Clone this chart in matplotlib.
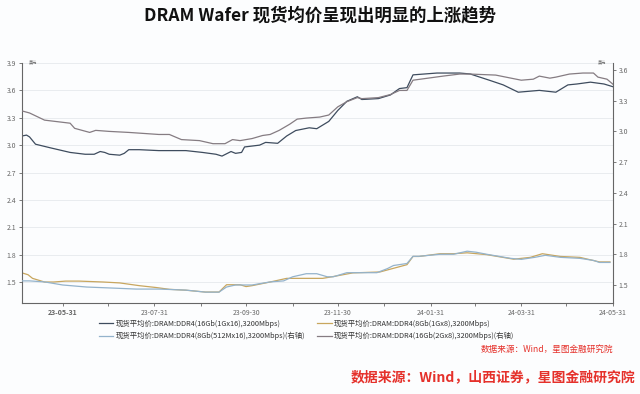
import numpy as np
import pandas as pd
import matplotlib
matplotlib.use("Agg")
import matplotlib.pyplot as plt
import matplotlib.dates as mdates

plt.rcParams["font.family"] = ["Noto Sans CJK SC", "DejaVu Sans"]

# 现货平均价:DRAM:DDR4(16Gb(1Gx16),3200Mbps)  -- left axis
d16_1g_dates = ["2023-05-04", "2023-05-07", "2023-05-09", "2023-05-13", "2023-05-23", "2023-06-05",
                "2023-06-15", "2023-06-21", "2023-06-25", "2023-06-28", "2023-07-01", "2023-07-08",
                "2023-07-11", "2023-07-14", "2023-07-21", "2023-08-03", "2023-08-10", "2023-08-21",
                "2023-09-01", "2023-09-10", "2023-09-14", "2023-09-20", "2023-09-23", "2023-09-27",
                "2023-09-29", "2023-10-09", "2023-10-13", "2023-10-21", "2023-10-27", "2023-11-02",
                "2023-11-11", "2023-11-16", "2023-11-18", "2023-11-24", "2023-11-30", "2023-12-06",
                "2023-12-13", "2023-12-16", "2023-12-27", "2024-01-04", "2024-01-10", "2024-01-15",
                "2024-01-19", "2024-02-04", "2024-02-19", "2024-02-26", "2024-03-10", "2024-03-19",
                "2024-03-29", "2024-04-12", "2024-04-23", "2024-05-01", "2024-05-07", "2024-05-16",
                "2024-05-25", "2024-05-31"]
d16_1g = [3.10, 3.11, 3.09, 3.01, 2.97, 2.92, 2.90, 2.90, 2.93, 2.92, 2.90, 2.89, 2.91, 2.95, 2.95,
          2.94, 2.94, 2.94, 2.92, 2.90, 2.88, 2.93, 2.91, 2.92, 2.98, 3.00, 3.03, 3.02, 3.10, 3.16,
          3.19, 3.18, 3.20, 3.26, 3.38, 3.48, 3.53, 3.50, 3.51, 3.55, 3.62, 3.63, 3.77, 3.79, 3.79,
          3.78, 3.71, 3.66, 3.58, 3.60, 3.58, 3.66, 3.67, 3.69, 3.67, 3.64]

# 现货平均价:DRAM:DDR4(8Gb(1Gx8),3200Mbps)  -- left axis
d8_1g_dates = ["2023-05-04", "2023-05-08", "2023-05-11", "2023-05-19", "2023-05-25", "2023-06-02",
               "2023-06-11", "2023-06-27", "2023-07-08", "2023-07-21", "2023-08-01", "2023-08-10",
               "2023-08-21", "2023-09-03", "2023-09-12", "2023-09-17", "2023-09-26", "2023-09-30",
               "2023-10-04", "2023-10-16", "2023-10-27", "2023-11-20", "2023-11-27", "2023-12-10",
               "2023-12-28", "2024-01-06", "2024-01-15", "2024-01-19", "2024-01-23", "2024-02-06",
               "2024-02-15", "2024-02-24", "2024-03-08", "2024-03-26", "2024-04-06", "2024-04-14",
               "2024-04-26", "2024-05-09", "2024-05-22", "2024-05-29"]
d8_1g = [1.60, 1.58, 1.54, 1.50, 1.50, 1.51, 1.51, 1.50, 1.49, 1.46, 1.44, 1.42, 1.41, 1.39, 1.39,
         1.47, 1.47, 1.45, 1.46, 1.50, 1.54, 1.54, 1.56, 1.60, 1.61, 1.65, 1.69, 1.78, 1.78, 1.81,
         1.81, 1.82, 1.80, 1.75, 1.77, 1.81, 1.78, 1.77, 1.72, 1.72]

# 现货平均价:DRAM:DDR4(8Gb(512Mx16),3200Mbps)(右轴)
d8_512_dates = ["2023-05-04", "2023-05-09", "2023-05-19", "2023-05-31", "2023-06-16", "2023-07-03",
                "2023-07-19", "2023-08-03", "2023-08-21", "2023-09-03", "2023-09-12", "2023-09-17",
                "2023-09-23", "2023-10-04", "2023-10-16", "2023-10-25", "2023-10-31", "2023-11-09",
                "2023-11-16", "2023-11-23", "2023-11-27", "2023-12-06", "2023-12-15", "2023-12-26",
                "2024-01-02", "2024-01-06", "2024-01-15", "2024-01-19", "2024-01-23", "2024-02-06",
                "2024-02-15", "2024-02-24", "2024-03-01", "2024-03-08", "2024-03-24", "2024-03-31",
                "2024-04-09", "2024-04-16", "2024-04-26", "2024-05-09", "2024-05-18", "2024-05-22",
                "2024-05-29"]
d8_512 = [1.54, 1.54, 1.53, 1.50, 1.48, 1.47, 1.46, 1.46, 1.45, 1.43, 1.43, 1.48, 1.50, 1.50, 1.53,
          1.54, 1.58, 1.61, 1.61, 1.58, 1.58, 1.62, 1.62, 1.62, 1.66, 1.69, 1.71, 1.78, 1.78, 1.80,
          1.80, 1.83, 1.82, 1.80, 1.76, 1.75, 1.77, 1.79, 1.77, 1.76, 1.74, 1.72, 1.72]

# 现货平均价:DRAM:DDR4(16Gb(2Gx8),3200Mbps)(右轴)
d16_2g_dates = ["2023-05-04", "2023-05-09", "2023-05-19", "2023-06-05", "2023-06-08", "2023-06-18",
                "2023-06-22", "2023-07-01", "2023-07-14", "2023-08-03", "2023-08-10", "2023-08-18",
                "2023-08-30", "2023-09-08", "2023-09-16", "2023-09-21", "2023-09-26", "2023-10-04",
                "2023-10-11", "2023-10-16", "2023-10-22", "2023-10-29", "2023-11-03", "2023-11-09",
                "2023-11-18", "2023-11-24", "2023-11-30", "2023-12-06", "2023-12-13", "2023-12-16",
                "2023-12-27", "2024-01-04", "2024-01-10", "2024-01-15", "2024-01-19", "2024-02-08",
                "2024-02-19", "2024-02-26", "2024-03-14", "2024-03-31", "2024-04-08", "2024-04-12",
                "2024-04-19", "2024-04-23", "2024-05-02", "2024-05-11", "2024-05-18", "2024-05-21",
                "2024-05-27", "2024-05-31"]
d16_2g = [3.20, 3.18, 3.11, 3.08, 3.03, 2.99, 3.01, 3.00, 2.99, 2.97, 2.97, 2.92, 2.91, 2.88, 2.88,
          2.92, 2.91, 2.93, 2.96, 2.97, 3.01, 3.07, 3.12, 3.13, 3.14, 3.16, 3.24, 3.29, 3.33, 3.32,
          3.33, 3.36, 3.40, 3.40, 3.50, 3.54, 3.56, 3.56, 3.55, 3.50, 3.51, 3.54, 3.52, 3.53, 3.56,
          3.57, 3.57, 3.53, 3.51, 3.46]

major_ticks = ["2023-05-31", "2023-07-31", "2023-09-30", "2023-11-30", "2024-01-31", "2024-03-31", "2024-05-31"]
minor_ticks = ["2023-06-30", "2023-08-31", "2023-10-31", "2023-12-31", "2024-02-29", "2024-04-30"]
left_ticks = [1.5, 1.8, 2.1, 2.4, 2.7, 3.0, 3.3, 3.6, 3.9]
right_ticks = [1.5, 1.8, 2.1, 2.4, 2.7, 3.0, 3.3, 3.6]

labels = [
    "现货平均价:DRAM:DDR4(16Gb(1Gx16),3200Mbps)",
    "现货平均价:DRAM:DDR4(8Gb(1Gx8),3200Mbps)",
    "现货平均价:DRAM:DDR4(8Gb(512Mx16),3200Mbps)(右轴)",
    "现货平均价:DRAM:DDR4(16Gb(2Gx8),3200Mbps)(右轴)",
]
colors = ["#3e4c5e", "#c8a65e", "#94b3cc", "#857c82"]
red = "#e5312b"
tick_color = "#666666"
bg = "#fcfdfe"

fig = plt.figure(figsize=(6.4, 3.94), dpi=100)
fig.patch.set_facecolor(bg)
ax = fig.add_axes([22 / 640, 1 - 303 / 394, (613 - 22) / 640, (303 - 63) / 394])
ax2 = ax.twinx()
ax.set_facecolor(bg)

l1, = ax.plot(pd.to_datetime(d16_1g_dates), d16_1g, color=colors[0], lw=0.9)
l2, = ax.plot(pd.to_datetime(d8_1g_dates), d8_1g, color=colors[1], lw=0.9)
l3, = ax2.plot(pd.to_datetime(d8_512_dates), d8_512, color=colors[2], lw=0.9)
l4, = ax2.plot(pd.to_datetime(d16_2g_dates), d16_2g, color=colors[3], lw=0.9)

ax.set_xlim(pd.Timestamp("2023-05-04"), pd.Timestamp("2024-05-31"))
ax.set_ylim(1.27, 3.90)
ax2.set_ylim(1.324, 3.668)

ax.set_yticks(left_ticks)
ax.set_yticklabels([f"{v:.1f}" for v in left_ticks])
ax2.set_yticks(right_ticks)
ax2.set_yticklabels([f"{v:.1f}" for v in right_ticks])
ax.grid(axis="y", color="#e9ecef", lw=0.7)
ax.set_axisbelow(True)

ax.set_xticks(pd.to_datetime(major_ticks))
ax.set_xticks(pd.to_datetime(minor_ticks), minor=True)
ax.xaxis.set_major_formatter(mdates.DateFormatter("%y-%m-%d"))
for lbl in ax.get_xticklabels()[:1]:
    lbl.set_fontweight("bold")

for a in (ax, ax2):
    a.tick_params(axis="both", which="both", labelsize=5, colors=tick_color, length=2.5, width=0.6, pad=1.5)
    for s in a.spines.values():
        s.set_visible(False)
ax.spines["left"].set_visible(True)
ax.spines["bottom"].set_visible(True)
ax2.spines["right"].set_visible(True)
for s in (ax.spines["left"], ax.spines["bottom"], ax2.spines["right"]):
    s.set_color("#666666")
    s.set_linewidth(0.8)

ax.text(0.012, 1.0, "美元", transform=ax.transAxes, fontsize=3, color=tick_color, va="center")
ax.text(0.988, 1.0, "美元", transform=ax.transAxes, fontsize=3, color=tick_color, va="center", ha="right")

fig.legend([l1, l3, l2, l4], [labels[0], labels[2], labels[1], labels[3]],
           loc="upper left", bbox_to_anchor=(95 / 640, 1 - 316 / 394), ncol=2, frameon=False,
           fontsize=5.3, handlelength=2.0, handletextpad=0.3, columnspacing=1.6,
           labelspacing=0.55, borderpad=0, labelcolor="#333333")

fig.text(0.5, 1 - 15 / 394, "DRAM Wafer 现货均价呈现出明显的上涨趋势", ha="center", va="center",
         fontsize=12.5, fontweight="bold", color="#111111")
fig.text(613 / 640, 1 - 349 / 394, "数据来源：Wind，星图金融研究院", ha="right", va="center",
         fontsize=6.2, color=red, style="italic")
fig.text(635 / 640, 1 - 377 / 394, "数据来源：Wind，山西证券，星图金融研究院", ha="right", va="center",
         fontsize=10, color=red, fontweight="bold", style="italic")

fig.savefig("out.png", dpi=100, facecolor=fig.get_facecolor())
